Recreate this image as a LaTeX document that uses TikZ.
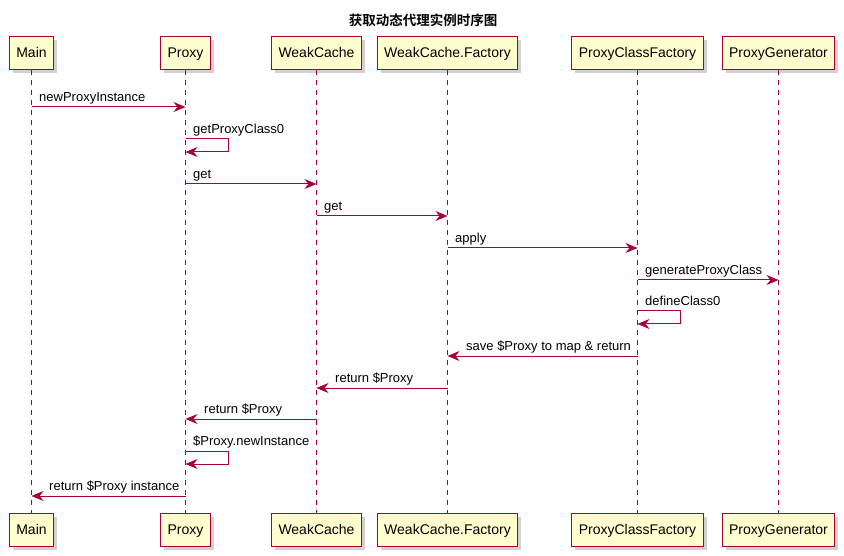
\documentclass[tikz,border=0pt]{standalone}
\usepackage{fontspec}
\setmainfont{Liberation Sans}
\newfontfamily\cjkfont{Noto Sans CJK SC}[BoldFont={Noto Sans CJK SC Bold}]
\usetikzlibrary{arrows.meta,positioning,shadows}
\definecolor{umlred}{HTML}{A80036}
\definecolor{umlfill}{HTML}{FEFECE}
\definecolor{txt}{HTML}{000000}

\begin{document}
\begin{tikzpicture}[
  x=1pt, y=-1pt,
  part/.style={
    draw=umlred,
    fill=umlfill,
    line width=1pt,
    minimum height=33pt,
    inner xsep=7pt,
    text height=11pt,
    text depth=2pt,
    text=txt,
    font=\fontsize{14}{16}\selectfont,
    drop shadow={shadow xshift=3.5pt, shadow yshift=-3.5pt, fill=black, opacity=0.18}
  },
  life/.style={draw=umlred, line width=1pt, dash pattern=on 5pt off 5pt},
  msg/.style={draw=umlred, line width=1pt, -{Stealth[length=12pt, width=10pt, inset=4pt]}},
  lbl/.style={font=\fontsize{13}{15}\selectfont, text=txt, inner sep=0pt, anchor=base west}
]
  \useasboundingbox (0,0) rectangle (844,556);

  % Title
  \node[font=\cjkfont\bfseries\fontsize{13.5}{16}\selectfont] (title) at (423,20) {获取动态代理实例时序图};

  % Participants (top row)
  \node[part] (main) at (31.5,53) {Main};
  \node[part] (proxy) at (185.5,53) {Proxy};
  \node[part] (wc) at (316.5,53) {WeakCache};
  \node[part] (wcf) at (447.5,53) {WeakCache.Factory};
  \node[part] (pcf) at (637.5,53) {ProxyClassFactory};
  \node[part] (pg) at (778.5,53) {ProxyGenerator};

  % Participants (bottom row)
  \node[part] (mainB) at (31.5,530) {Main};
  \node[part] (proxyB) at (185.5,530) {Proxy};
  \node[part] (wcB) at (316.5,530) {WeakCache};
  \node[part] (wcfB) at (447.5,530) {WeakCache.Factory};
  \node[part] (pcfB) at (637.5,530) {ProxyClassFactory};
  \node[part] (pgB) at (778.5,530) {ProxyGenerator};

  % Lifelines
  \draw[life] (main) -- (mainB);
  \draw[life] (proxy) -- (proxyB);
  \draw[life] (wc) -- (wcB);
  \draw[life] (wcf) -- (wcfB);
  \draw[life] (pcf) -- (pcfB);
  \draw[life] (pg) -- (pgB);

  % Messages
  \draw[msg] (main |- 0,107) -- (proxy |- 0,107);
  \draw[msg] (proxy |- 0,139) -- ++(43,0) -- ++(0,13) -- (proxy |- 0,152);
  \draw[msg] (proxy |- 0,184) -- (wc |- 0,184);
  \draw[msg] (wc |- 0,216) -- (wcf |- 0,216);
  \draw[msg] (wcf |- 0,248) -- (pcf |- 0,248);
  \draw[msg] (pcf |- 0,280) -- (pg |- 0,280);
  \draw[msg] (pcf |- 0,311) -- ++(43,0) -- ++(0,13) -- (pcf |- 0,324);
  \draw[msg] (pcf |- 0,356) -- (wcf |- 0,356);
  \draw[msg] (wcf |- 0,388) -- (wc |- 0,388);
  \draw[msg] (wc |- 0,419) -- (proxy |- 0,419);
  \draw[msg] (proxy |- 0,451) -- ++(43,0) -- ++(0,13) -- (proxy |- 0,464);
  \draw[msg] (proxy |- 0,496) -- (main |- 0,496);

  % Message labels
  \node[lbl] (l1) at (39,101.5) {newProxyInstance};
  \node[lbl] (l2) at (193,133.5) {getProxyClass0};
  \node[lbl] (l3) at (193,178.5) {get};
  \node[lbl] (l4) at (324,210.5) {get};
  \node[lbl] (l5) at (455,242.5) {apply};
  \node[lbl] (l6) at (645,274.5) {generateProxyClass};
  \node[lbl] (l7) at (645,305.5) {defineClass0};
  \node[lbl] (l8) at (466,350.5) {save \$Proxy to map \& return};
  \node[lbl] (l9) at (335,382.5) {return \$Proxy};
  \node[lbl] (l10) at (204,413.5) {return \$Proxy};
  \node[lbl] (l11) at (193,445.5) {\$Proxy.newInstance};
  \node[lbl] (l12) at (49,490.5) {return \$Proxy instance};
\end{tikzpicture}
\end{document}
